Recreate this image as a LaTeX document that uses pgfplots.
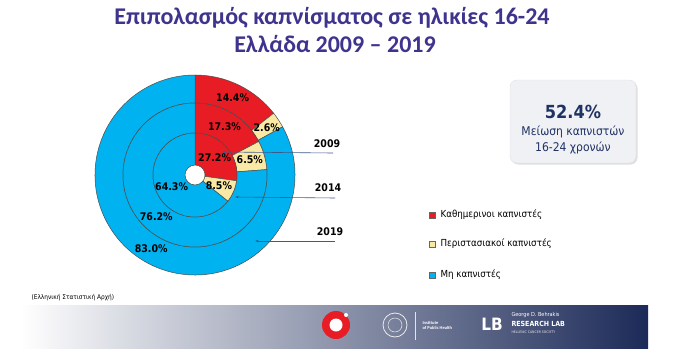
\documentclass[border=0pt]{standalone}
\usepackage{pgfplots}
\pgfplotsset{compat=1.18}
\usepackage{pgfplotstable}
\usetikzlibrary{arrows.meta,shadows}
\usepackage{fontspec}
\setmainfont{Carlito}
\newfontfamily\cond{DejaVu Sans Condensed}

\definecolor{titlecol}{RGB}{62,52,142}
\definecolor{dred}{RGB}{232,28,36}
\definecolor{dyel}{RGB}{250,232,165}
\definecolor{dblue}{RGB}{0,178,240}
\definecolor{navy}{RGB}{30,50,100}
\definecolor{leader}{RGB}{60,90,140}
\definecolor{boxfill}{RGB}{240,241,245}
\definecolor{barnavy}{RGB}{28,42,88}

% ring: year, inner radius, outer radius (px), shares in %
\pgfplotstableread{
year rin rout daily occ non
2009 10 42 27.2 8.5 64.3
2014 42 72 17.3 6.5 76.2
2019 72 100 14.4 2.6 83.0
}\donut

\foreach \i in {0,1,2}{%
  \pgfplotstablegetelem{\i}{rin}\of\donut \expandafter\xdef\csname rin\i\endcsname{\pgfplotsretval}%
  \pgfplotstablegetelem{\i}{rout}\of\donut \expandafter\xdef\csname rout\i\endcsname{\pgfplotsretval}%
  \pgfplotstablegetelem{\i}{daily}\of\donut \expandafter\xdef\csname vd\i\endcsname{\pgfplotsretval}%
  \pgfplotstablegetelem{\i}{occ}\of\donut \expandafter\xdef\csname vo\i\endcsname{\pgfplotsretval}%
  \pgfplotstablegetelem{\i}{non}\of\donut \expandafter\xdef\csname vn\i\endcsname{\pgfplotsretval}%
  \pgfmathsetmacro\tA{90-3.6*\csname vd\i\endcsname}%
  \pgfmathsetmacro\tB{\tA-3.6*\csname vo\i\endcsname}%
  \expandafter\xdef\csname aA\i\endcsname{\tA}%
  \expandafter\xdef\csname aB\i\endcsname{\tB}%
  \pgfmathsetmacro\mA{(90+\tA)/2}\expandafter\xdef\csname mA\i\endcsname{\mA}%
  \pgfmathsetmacro\mB{(\tA+\tB)/2}\expandafter\xdef\csname mB\i\endcsname{\mB}%
  \pgfmathsetmacro\mC{(\tB-270)/2}\expandafter\xdef\csname mC\i\endcsname{\mC}%
  \pgfmathsetmacro\rm{(\csname rin\i\endcsname+\csname rout\i\endcsname)/2}\expandafter\xdef\csname rm\i\endcsname{\rm}%
}

\newcommand\sector[5]{%
  \filldraw[fill=#5, draw=black!70, line width=0.5pt, shift={(axis cs:195,182)}]
    (#3:#2pt) arc[start angle=#3, end angle=#4, radius=#2pt]
    -- (#4:#1pt) arc[start angle=#4, end angle=#3, radius=#1pt] -- cycle;}
\newcommand\ring[1]{%
  \sector{\csname rin#1\endcsname}{\csname rout#1\endcsname}{90}{\csname aA#1\endcsname}{dred}%
  \sector{\csname rin#1\endcsname}{\csname rout#1\endcsname}{\csname aA#1\endcsname}{\csname aB#1\endcsname}{dyel}%
  \sector{\csname rin#1\endcsname}{\csname rout#1\endcsname}{\csname aB#1\endcsname}{-270}{dblue}%
  \node[font=\cond\bfseries\fontsize{10.5}{12}\selectfont, shift={(axis cs:195,182)}]
    at (\csname mA#1\endcsname:\csname rm#1\endcsname pt) {\csname vd#1\endcsname\%};
  \node[font=\cond\bfseries\fontsize{10.5}{12}\selectfont, shift={(axis cs:195,182)}]
    at (\csname mB#1\endcsname:\csname rm#1\endcsname pt) {\csname vo#1\endcsname\%};
  \node[font=\cond\bfseries\fontsize{10.5}{12}\selectfont, shift={(axis cs:195,182)}]
    at (\csname mC#1\endcsname:\csname rm#1\endcsname pt) {\csname vn#1\endcsname\%};}

\begin{document}
\begin{tikzpicture}
\begin{axis}[width=674pt, height=357pt, scale only axis,
  xmin=0, xmax=674, ymin=0, ymax=357, hide axis, clip=false,
  at={(0,0)}, anchor=south west]
\fill[white] (axis cs:0,0) rectangle (axis cs:674,357);
% title
\node[font=\bfseries\fontsize{24}{26}\selectfont, text=titlecol] at (axis cs:332,339) {Επιπολασμός καπνίσματος σε ηλικίες 16-24};
\node[font=\bfseries\fontsize{24}{26}\selectfont, text=titlecol] at (axis cs:335,313) {Ελλάδα 2009 – 2019};
% donut
\pgfplotsinvokeforeach{2,1,0}{\ring{#1}}
% leaders
\draw[leader, line width=0.6pt, {Latex[length=3pt,width=2.5pt]}-] (axis cs:222,205) -- (axis cs:333,204);
\draw[leader, line width=0.6pt, {Latex[length=3pt,width=2.5pt]}-] (axis cs:235,160) -- (axis cs:335,159);
\draw[leader, line width=0.6pt, {Latex[length=3pt,width=2.5pt]}-] (axis cs:255,116) -- (axis cs:335,116);
\node[font=\cond\bfseries\fontsize{10.5}{12}\selectfont] at (axis cs:327,213) {2009};
\node[font=\cond\bfseries\fontsize{10.5}{12}\selectfont] at (axis cs:328,169) {2014};
\node[font=\cond\bfseries\fontsize{10.5}{12}\selectfont] at (axis cs:330,125) {2019};
% legend
\filldraw[fill=dred, draw=black!60, line width=0.3pt] (axis cs:429,139) rectangle (axis cs:435,145);
\filldraw[fill=dyel, draw=black!60, line width=0.3pt] (axis cs:429,110) rectangle (axis cs:435,116);
\filldraw[fill=dblue, draw=black!60, line width=0.3pt] (axis cs:429,79) rectangle (axis cs:435,85);
\node[anchor=west, font=\cond\fontsize{9.7}{11}\selectfont] at (axis cs:437,142) {Καθημερινοι καπνιστές};
\node[anchor=west, font=\cond\fontsize{9.7}{11}\selectfont] at (axis cs:437,113) {Περιστασιακοί καπνιστές};
\node[anchor=west, font=\cond\fontsize{9.7}{11}\selectfont] at (axis cs:437,82) {Μη καπνιστές};
% info box
\filldraw[fill=boxfill, draw=black!12, rounded corners=7pt, drop shadow={opacity=0.25, shadow xshift=1.5pt, shadow yshift=-1.5pt}] (axis cs:510,194) rectangle (axis cs:636,277);
\node[font=\cond\bfseries\fontsize{18}{20}\selectfont, text=navy] at (axis cs:573,245) {52.4\%};
\node[font=\cond\fontsize{12}{14}\selectfont, text=navy] at (axis cs:573,225) {Μείωση καπνιστών};
\node[font=\cond\fontsize{12}{14}\selectfont, text=navy] at (axis cs:573,209) {16-24 χρονών};
% source
\node[anchor=west, font=\cond\fontsize{6.5}{8}\selectfont] at (axis cs:28,59) {(Ελληνική Στατιστική Αρχή)};
% footer bar
\shade[left color=white, right color=barnavy] (axis cs:20,9) rectangle (axis cs:648,52);
\fill[dred] (axis cs:336,32) circle[radius=14pt];
\fill[white] (axis cs:336,32) circle[radius=6.5pt];
\fill[white] (axis cs:346,42) circle[radius=2pt];
\draw[white!85!gray, line width=0.8pt] (axis cs:395,32) circle[radius=12pt];
\draw[white!85!gray, line width=0.5pt] (axis cs:395,32) circle[radius=7pt];
\draw[white!80!gray, line width=0.4pt] (axis cs:415,17) -- (axis cs:415,45);
\node[anchor=west, align=left, text=white, font=\bfseries\fontsize{4.5}{5}\selectfont] at (axis cs:419,32) {Institute\\of Public Health};
\node[text=white, font=\cond\bfseries\fontsize{17}{18}\selectfont] at (axis cs:492,33) {LB};
\node[anchor=west, text=white, font=\cond\fontsize{5.5}{6}\selectfont] at (axis cs:508,42) {George D. Behrakis};
\node[anchor=west, text=white, font=\cond\bfseries\fontsize{7}{8}\selectfont] at (axis cs:508,33) {RESEARCH LAB};
\node[anchor=west, text=white!80!gray, font=\cond\fontsize{3.5}{4}\selectfont] at (axis cs:508,25) {HELLENIC CANCER SOCIETY};
\end{axis}
\end{tikzpicture}
\end{document}
